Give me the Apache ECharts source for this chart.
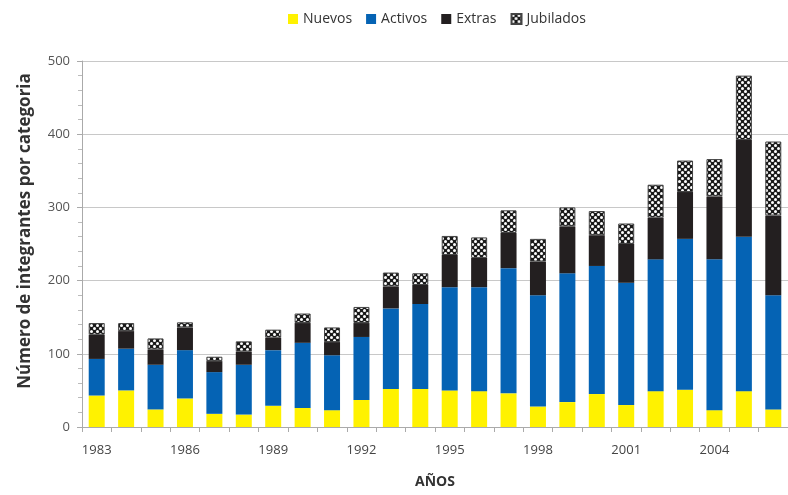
<!DOCTYPE html>
<html>
<head>
<meta charset="utf-8">
<script src="https://cdn.jsdelivr.net/npm/echarts@6/dist/echarts.min.js"></script>
<style>
  html, body { margin: 0; padding: 0; background: #fff; }
  #main { width: 788px; height: 495px; }
</style>
</head>
<body>
<div id="main"></div>
<script>
// datos
const years = ["1983", "1984", "1985", "1986", "1987", "1988", "1989", "1990", "1991", "1992", "1993", "1994",
  "1995", "1996", "1997", "1998", "1999", "2000", "2001", "2002", "2003", "2004", "2005", "2006"];
const nuevos = [43, 50, 24, 39, 18, 17, 29, 26, 23, 37, 52, 52, 50, 49, 46, 28, 34, 45, 30, 49, 51, 23, 49, 24];
const activos = [50, 57, 61, 66, 57, 68, 76, 89, 75, 86, 110, 116, 141, 142, 171, 152, 176, 175, 167, 180, 206, 206, 211, 156];
const extras = [33, 24, 21, 31, 15, 18, 17, 27, 18, 19, 30, 26, 44, 40, 48, 46, 64, 42, 53, 57, 64, 86, 132, 109];
const jubilados = [16, 11, 15, 7, 6, 14, 11, 13, 20, 22, 19, 16, 26, 28, 31, 31, 26, 33, 28, 45, 43, 51, 88, 101];
const yTicks = [0, 100, 200, 300, 400, 500];

// trama de los jubilados
function makePattern() {
  const c = document.createElement("canvas");
  c.width = 6;
  c.height = 6;
  const ctx = c.getContext("2d");
  ctx.fillStyle = "#1a1a1a";
  ctx.fillRect(0, 0, 6, 6);
  ctx.fillStyle = "#ffffff";
  [[1.5, 1.5], [4.5, 4.5]].forEach(([x, y]) => {
    ctx.beginPath();
    ctx.arc(x, y, 1.5, 0, Math.PI * 2);
    ctx.fill();
  });
  return c;
}

const font = "'Open Sans', 'Noto Sans', sans-serif";
const chart = echarts.init(document.getElementById("main"));
const pattern = { image: makePattern(), repeat: "repeat" };

const option = {
  animation: false,
  legend: {
    left: 283,
    top: 7,
    itemWidth: 10,
    itemHeight: 10,
    itemGap: 14,
    icon: "rect",
    textStyle: { fontFamily: font, fontSize: 14, color: "#333" },
    data: ["Nuevos", "Activos", "Extras", "Jubilados"],
  },
  grid: {
    left: 82,
    right: -4,
    top: 61,
    bottom: 68,
  },
  xAxis: {
    type: "category",
    data: years,
    name: "AÑOS",
    nameLocation: "middle",
    nameGap: 48,
    nameTextStyle: { fontFamily: font, fontSize: 14, fontWeight: "bold", color: "#333" },
    axisLine: { lineStyle: { color: "#aaa" } },
    axisTick: { show: true, interval: 0, length: 5, lineStyle: { color: "#aaa" } },
    axisLabel: { interval: 2, margin: 17, fontFamily: font, fontSize: 13, color: "#444" },
  },
  yAxis: {
    type: "value",
    min: yTicks[0],
    max: yTicks[yTicks.length - 1],
    interval: 100,
    name: "Número de integrantes por categoria",
    nameLocation: "middle",
    nameGap: 48,
    nameTextStyle: { fontFamily: font, fontSize: 17, fontWeight: "bold", color: "#333", padding: [0, 0, 0, 26] },
    axisLine: { show: true, lineStyle: { color: "#aaa" } },
    axisTick: { show: true, length: 5, lineStyle: { color: "#aaa" } },
    minorTick: { show: true, splitNumber: 5, length: 4, lineStyle: { color: "#bbb" } },
    splitLine: { lineStyle: { color: "#c8c8c8" } },
    axisLabel: { margin: 12, fontFamily: font, fontSize: 13, color: "#555" },
  },
  series: [
    {
      name: "Nuevos",
      type: "bar",
      stack: "total",
      barWidth: 16,
      itemStyle: { color: "#fff200" },
      data: nuevos,
    },
    {
      name: "Activos",
      type: "bar",
      stack: "total",
      itemStyle: { color: "#0563b4" },
      data: activos,
    },
    {
      name: "Extras",
      type: "bar",
      stack: "total",
      itemStyle: { color: "#231f20" },
      data: extras,
    },
    {
      name: "Jubilados",
      type: "bar",
      stack: "total",
      itemStyle: { color: pattern, borderColor: "#444", borderWidth: 1 },
      data: jubilados,
    },
  ],
};
chart.setOption(option);
</script>
</body>
</html>
